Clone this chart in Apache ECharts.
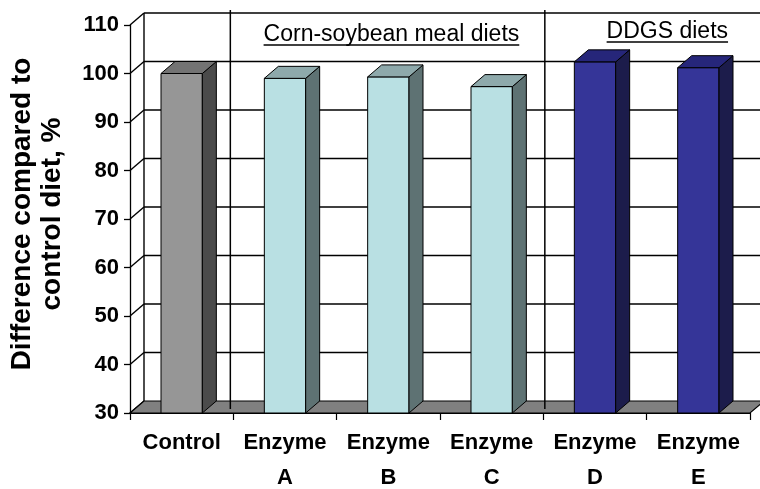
<!DOCTYPE html>
<html><head><meta charset="utf-8">
<script src="https://cdn.jsdelivr.net/npm/echarts@6/dist/echarts.min.js"></script>
<style>html,body{margin:0;padding:0;background:#fff}#c{width:760px;height:489px}</style>
</head><body><div id="c"></div>
<script>
var categories = ['Control', 'Enzyme\nA', 'Enzyme\nB', 'Enzyme\nC', 'Enzyme\nD', 'Enzyme\nE'];
var values = [100, 99, 99.3, 97.3, 102.4, 101.2];
var groups = ['control', 'csbm', 'csbm', 'csbm', 'ddgs', 'ddgs'];
var yTicks = [30, 40, 50, 60, 70, 80, 90, 100, 110];
var groupLabels = ['Corn-soybean meal diets', 'DDGS diets'];
var yTitle = 'Difference compared to\ncontrol diet, %';

var palette = {
  control: { front: '#969696', side: '#4b4b4b', top: '#737373' },
  csbm: { front: '#b9e0e3', side: '#5e7273', top: '#8ea9ab' },
  ddgs: { front: '#353598', side: '#1c1c4b', top: '#26267a' }
};
var DX = 14, DY = -12;
var FONT = 'Liberation Sans, Arial, sans-serif';

var chart = echarts.init(document.getElementById('c'), null, { renderer: 'canvas' });

function frameItem(params, api) {
  var cs = params.coordSys;
  var ch = [];
  var left = cs.x, right = cs.x + cs.width;
  var yBottom = api.coord([0, yTicks[0]])[1];
  var yTop = api.coord([0, yTicks[yTicks.length - 1]])[1];
  var ls = { stroke: '#000', lineWidth: 1.4 };
  yTicks.forEach(function (v) {
    var y = api.coord([0, v])[1];
    if (v !== yTicks[0]) {
      ch.push({ type: 'line', shape: { x1: left + DX, y1: y + DY, x2: right + DX + 20, y2: y + DY }, style: ls });
    }
    ch.push({ type: 'line', shape: { x1: left, y1: y, x2: left + DX, y2: y + DY }, style: ls });
  });
  ch.push({ type: 'line', shape: { x1: left + DX, y1: yTop + DY, x2: left + DX, y2: yBottom + DY }, style: ls });
  ch.push({ type: 'polygon', shape: { points: [[left, yBottom], [right, yBottom], [right + DX, yBottom + DY], [left + DX, yBottom + DY]] },
    style: { fill: '#808080', stroke: '#000', lineWidth: 1.2 } });
  return { type: 'group', children: ch };
}

function sepItem(params, api) {
  var ch = [];
  var band = api.size([1, 0])[0];
  var yTop = api.coord([0, yTicks[yTicks.length - 1]])[1] + DY - 3;
  var yBot = api.coord([0, yTicks[0]])[1] - 4;
  [1, 4].forEach(function (i, k) {
    var x = api.coord([i, 30])[0] - band / 2 + (k === 0 ? -3 : 1.5);
    ch.push({ type: 'line', shape: { x1: x, y1: yTop, x2: x, y2: yBot }, style: { stroke: '#000', lineWidth: 1.5 } });
  });
  var pos = [[2, 0.03, 35, 45], [4, 0.7, 31.5, 42]];
  var ctx = document.createElement('canvas').getContext('2d');
  var fs = 23;
  ctx.font = fs + 'px ' + FONT;
  groupLabels.forEach(function (t, k) {
    var p = pos[k];
    var cx = api.coord([p[0], 30])[0] + p[1] * band;
    var w = ctx.measureText(t).width;
    ch.push({ type: 'text', style: { text: t, x: cx, y: p[2], align: 'center', verticalAlign: 'middle', font: fs + 'px ' + FONT, fill: '#000' } });
    ch.push({ type: 'line', shape: { x1: cx - w / 2, y1: p[3], x2: cx + w / 2, y2: p[3] }, style: { stroke: '#000', lineWidth: 1.6 } });
  });
  return { type: 'group', children: ch };
}

function barItem(params, api) {
  var i = api.value(0), v = api.value(1);
  var base = api.coord([i, yTicks[0]]);
  var top = api.coord([i, v]);
  var band = api.size([1, 0])[0];
  var w = band * 0.4;
  var x1 = base[0] - w / 2, x2 = base[0] + w / 2;
  var yb = base[1], yt = top[1];
  var c = palette[groups[i]];
  var st = { stroke: '#000', lineWidth: 1, lineJoin: 'round' };
  return {
    type: 'group',
    children: [
      { type: 'polygon', shape: { points: [[x1, yt], [x2, yt], [x2, yb], [x1, yb]] }, style: Object.assign({ fill: c.front }, st) },
      { type: 'polygon', shape: { points: [[x2, yt], [x2 + DX, yt + DY], [x2 + DX, yb + DY], [x2, yb]] }, style: Object.assign({ fill: c.side }, st) },
      { type: 'polygon', shape: { points: [[x1, yt], [x1 + DX, yt + DY], [x2 + DX, yt + DY], [x2, yt]] }, style: Object.assign({ fill: c.top }, st) }
    ]
  };
}

chart.setOption({
  animation: false,
  grid: { left: 130, right: 10, top: 25, bottom: 76, containLabel: false, outerBoundsMode: 'none' },
  graphic: [{
    type: 'text', x: 37, y: 214, rotation: Math.PI / 2,
    style: { text: yTitle, align: 'center', verticalAlign: 'middle', font: 'bold 28px ' + FONT, lineHeight: 30, fill: '#000' }
  }],
  xAxis: {
    type: 'category', data: categories, boundaryGap: true,
    axisLine: { show: true, lineStyle: { color: '#000', width: 1.2 } },
    axisTick: { show: true, length: 7, lineStyle: { color: '#000', width: 1.2 } },
    axisLabel: { color: '#000', fontFamily: FONT, fontWeight: 'bold', fontSize: 22, lineHeight: 35, margin: 12, interval: 0 },
    splitLine: { show: false }, z: 5
  },
  yAxis: {
    type: 'value', min: 30, max: 110, interval: 10,
    axisLine: { show: true, lineStyle: { color: '#000', width: 1.3 } },
    axisTick: { show: true, length: 6, lineStyle: { color: '#000', width: 1.3 } },
    axisLabel: { color: '#000', fontFamily: FONT, fontWeight: 'bold', fontSize: 22, margin: 11 },
    splitLine: { show: false }
  },
  series: [
    { type: 'custom', renderItem: frameItem, data: [[0, 30]], z: 1, silent: true },
    { type: 'custom', renderItem: barItem, data: values.map(function (v, i) { return [i, v]; }), z: 3, encode: { x: 0, y: 1 } },
    { type: 'custom', renderItem: sepItem, data: [[0, 30]], z: 4, silent: true }
  ]
});
</script></body></html>
